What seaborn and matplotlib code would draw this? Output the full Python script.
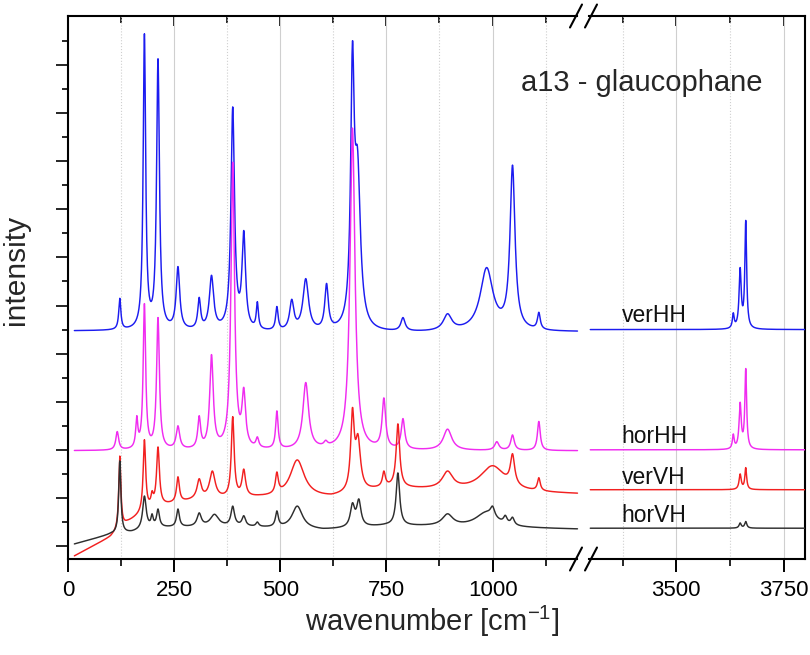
import numpy as np
import pandas as pd
import matplotlib
matplotlib.use("Agg")
import matplotlib.pyplot as plt
from matplotlib.lines import Line2D
from matplotlib.ticker import FixedLocator, NullFormatter
import seaborn as sns

sns.set_theme(style="ticks")
plt.rcParams["font.family"] = ["Liberation Sans", "DejaVu Sans"]
plt.rcParams["mathtext.default"] = "regular"

# ---------------- data ----------------
series_names = ["verHH", "horHH", "verVH", "horVH"]
series_colors = ["#1c1cf0", "#f02cf0", "#f22020", "#2e2e2e"]

# label positions (wavenumber, intensity level)
label_x = [3373, 3373, 3373, 3373]
label_y = [4.79, 2.27, 1.42, 0.63]

left_range = (15, 1200)
right_range = (3300, 3800)

# verHH
verHH_base_x = [15, 100, 600, 1200, 3300, 3800]
verHH_base_y = [4.47, 4.47, 4.42, 4.45, 4.50, 4.50]
verHH_pos = [122, 180, 212, 259, 309, 338, 388, 414, 446, 492, 527, 560, 609, 670, 682,
             789, 894, 986, 1047, 1109, 3633, 3649, 3662]
verHH_lvl = [5.15, 10.65, 10.13, 5.81, 5.17, 5.63, 9.13, 6.56, 5.08, 4.98, 5.13, 5.56, 5.46,
             10.50, 8.27, 4.75, 4.83, 5.79, 7.92, 4.86, 4.85, 5.79, 6.77]
verHH_wid = [3, 3.5, 4, 5, 4, 6, 5, 5, 3, 3.5, 6, 8, 5, 5, 8,
             6, 12, 18, 7, 4, 2.5, 3, 2.5]

# horHH
horHH_base_x = [15, 1200, 3300, 3800]
horHH_base_y = [1.98, 1.98, 2.0, 2.0]
horHH_pos = [116, 162, 180, 212, 259, 309, 338, 388, 414, 446, 492, 560, 607, 670,
             744, 789, 894, 1010, 1047, 1109, 3633, 3649, 3662]
horHH_lvl = [2.38, 2.71, 5.04, 4.75, 2.50, 2.71, 3.98, 7.98, 3.30, 2.27, 2.81, 3.40, 2.20, 8.69,
             3.08, 2.65, 2.43, 2.17, 2.31, 2.59, 2.33, 2.99, 3.69]
horHH_wid = [4, 3, 3.5, 4, 5, 4, 5, 5, 5, 4, 3.5, 8, 5, 7,
             5, 5, 12, 6, 5, 4, 2.5, 3, 2.5]

# verVH
verVH_base_x = [15, 60, 100, 140, 200, 300, 450, 620, 750, 900, 1100, 1200, 3300, 3800]
verVH_base_y = [-0.21, 0.0, 0.18, 0.48, 0.80, 0.95, 1.0, 1.0, 1.2, 1.15, 1.1, 1.08, 1.17, 1.17]
verVH_pos = [122, 180, 198, 212, 259, 309, 340, 388, 414, 492, 540, 670, 683,
             744, 777, 894, 1000, 1047, 1109, 3649, 3662]
verVH_lvl = [1.87, 2.21, 1.15, 2.06, 1.44, 1.40, 1.56, 2.69, 1.60, 1.54, 1.79, 2.88, 2.33,
             1.56, 2.54, 1.56, 1.67, 1.92, 1.42, 1.50, 1.63]
verVH_wid = [3, 3.5, 3, 4, 4, 6, 8, 4, 5, 4, 20, 5, 7,
             4, 5, 15, 35, 6, 4, 3, 2.5]

# horVH
horVH_base_x = [15, 100, 150, 200, 400, 600, 750, 900, 1200, 3300, 3800]
horVH_base_y = [0.04, 0.24, 0.28, 0.38, 0.40, 0.33, 0.42, 0.40, 0.35, 0.37, 0.37]
horVH_pos = [122, 180, 198, 212, 259, 309, 345, 388, 414, 446, 492, 540, 670, 685,
             777, 894, 985, 1000, 1030, 1047, 3649, 3662]
horVH_lvl = [1.77, 1.04, 0.67, 0.77, 0.77, 0.69, 0.66, 0.83, 0.63, 0.50, 0.73, 0.83, 0.90, 0.98,
             1.52, 0.67, 0.72, 0.83, 0.64, 0.60, 0.48, 0.51]
horVH_wid = [3, 5, 3, 4, 4, 6, 12, 5, 5, 4, 4, 15, 6, 6,
             5, 15, 30, 6, 5, 5, 3, 3]

x_major_left = [0, 250, 500, 750, 1000]
x_minor_left = [125, 375, 625, 875, 1125]
x_major_right = [3500, 3750]
x_minor_right = [3375, 3625]

# ---------------- build spectra ----------------
def lorentz(x, x0, w):
    return 1.0 / (1.0 + ((x - x0) / w) ** 2)

def spectrum(x, bx, by, pos, lvl, wid):
    pos = np.asarray(pos, float); lvl = np.asarray(lvl, float); wid = np.asarray(wid, float)
    base = np.interp(x, bx, by)
    M = lorentz(pos[:, None], pos[None, :], wid[None, :])
    rhs = lvl - np.interp(pos, bx, by)
    amp = np.linalg.solve(M, rhs)
    y = base + (amp[None, :] * lorentz(x[:, None], pos[None, :], wid[None, :])).sum(axis=1)
    return y

xl = np.arange(left_range[0], left_range[1] + 0.01, 0.5)
xr = np.arange(right_range[0], right_range[1] + 0.01, 0.5)
xall = np.concatenate([xl, xr])
seg = np.array(["left"] * len(xl) + ["right"] * len(xr))

params = {
    "verHH": (verHH_base_x, verHH_base_y, verHH_pos, verHH_lvl, verHH_wid),
    "horHH": (horHH_base_x, horHH_base_y, horHH_pos, horHH_lvl, horHH_wid),
    "verVH": (verVH_base_x, verVH_base_y, verVH_pos, verVH_lvl, verVH_wid),
    "horVH": (horVH_base_x, horVH_base_y, horVH_pos, horVH_lvl, horVH_wid),
}
frames = []
for name in series_names:
    y = spectrum(xall, *params[name])
    frames.append(pd.DataFrame({"wavenumber": xall, "intensity": y, "series": name, "segment": seg}))
df = pd.concat(frames, ignore_index=True)

# ---------------- figure ----------------
W, H = 810, 655
L, R, B, T, BRK = 68, 805, 559, 16, 583
fig = plt.figure(figsize=(W / 100, H / 100), dpi=100)
ax1 = fig.add_axes([L / W, 1 - B / H, (BRK - L) / W, (B - T) / H])
ax2 = fig.add_axes([BRK / W, 1 - B / H, (R - BRK) / W, (B - T) / H])

palette = dict(zip(series_names, series_colors))
for ax, segname in [(ax1, "left"), (ax2, "right")]:
    sub = df[df["segment"] == segname]
    sns.lineplot(data=sub, x="wavenumber", y="intensity", hue="series", hue_order=series_names,
                 palette=palette, estimator=None, sort=False, linewidth=1.05, legend=False,
                 ax=ax, zorder=3)
    ax.set_xlabel(""); ax.set_ylabel("")
    ax.set_ylim(-0.27, 11.02)

ax1.set_xlim(0, 1213)
ax2.set_xlim(3283, 3800)

for ax, maj, mnr in [(ax1, x_major_left, x_minor_left), (ax2, x_major_right, x_minor_right)]:
    ax.xaxis.set_major_locator(FixedLocator(maj))
    ax.xaxis.set_minor_locator(FixedLocator(mnr))
    ax.tick_params(axis="x", which="major", direction="out", length=9, width=1.4,
                   labelsize=16, pad=6, colors="black", bottom=True, top=False)
    ax.tick_params(axis="x", which="minor", direction="out", length=5, width=1.4,
                   bottom=True, top=False)
    ax.grid(axis="x", which="major", color="#cfcfcf", linewidth=0.8, linestyle="-", zorder=0)
    ax.grid(axis="x", which="minor", color="#cfcfcf", linewidth=0.8, linestyle=":", zorder=0)
    ax.grid(axis="y", visible=False)
    sec = ax.secondary_xaxis("top")
    sec.xaxis.set_major_locator(FixedLocator(maj))
    sec.xaxis.set_minor_locator(FixedLocator(mnr))
    sec.xaxis.set_major_formatter(NullFormatter())
    sec.tick_params(axis="x", which="major", direction="in", length=7.5, width=1.4)
    sec.tick_params(axis="x", which="minor", direction="in", length=5, width=1.4)
    for sp in sec.spines.values():
        sp.set_visible(False)
    for sp in ax.spines.values():
        sp.set_linewidth(1.5)
        sp.set_color("black")

ax1.yaxis.set_major_locator(FixedLocator(list(range(0, 11))))
ax1.yaxis.set_minor_locator(FixedLocator([k + 0.5 for k in range(0, 11)]))
ax1.yaxis.set_major_formatter(NullFormatter())
ax1.tick_params(axis="y", which="major", direction="out", length=9, width=1.4, left=True, right=False)
ax1.tick_params(axis="y", which="minor", direction="out", length=4.5, width=1.4, left=True, right=False)
ax2.set_yticks([])
ax2.tick_params(axis="y", which="both", left=False, right=False)

ax1.spines["right"].set_visible(False)
ax2.spines["left"].set_visible(False)
ax1.spines["top"].set_bounds(0, 1200)
ax1.spines["bottom"].set_bounds(0, 1200)
ax2.spines["top"].set_bounds(3296, 3800)
ax2.spines["bottom"].set_bounds(3296, 3800)

# break marks
for yc in (T, B):
    for xc in (576, 591):
        fig.add_artist(Line2D([(xc - 6) / W, (xc + 6) / W], [1 - (yc + 11.5) / H, 1 - (yc - 11.5) / H],
                              color="black", linewidth=1.5))

for name, lx, ly in zip(series_names, label_x, label_y):
    ax2.text(lx, ly, name, fontsize=16.5, ha="left", va="center", color="#111111", zorder=5)

fig.text(641.7 / W, 1 - 83 / H, "a13 - glaucophane", fontsize=21, ha="center", va="center")
fig.text(432 / W, 1 - 621 / H, "wavenumber [cm$^{-1}$]", fontsize=21, ha="center", va="center")
fig.text(16 / W, 1 - 270 / H, "intensity", fontsize=21.5, rotation=90, ha="center", va="center")

fig.savefig("out.png", dpi=100)
